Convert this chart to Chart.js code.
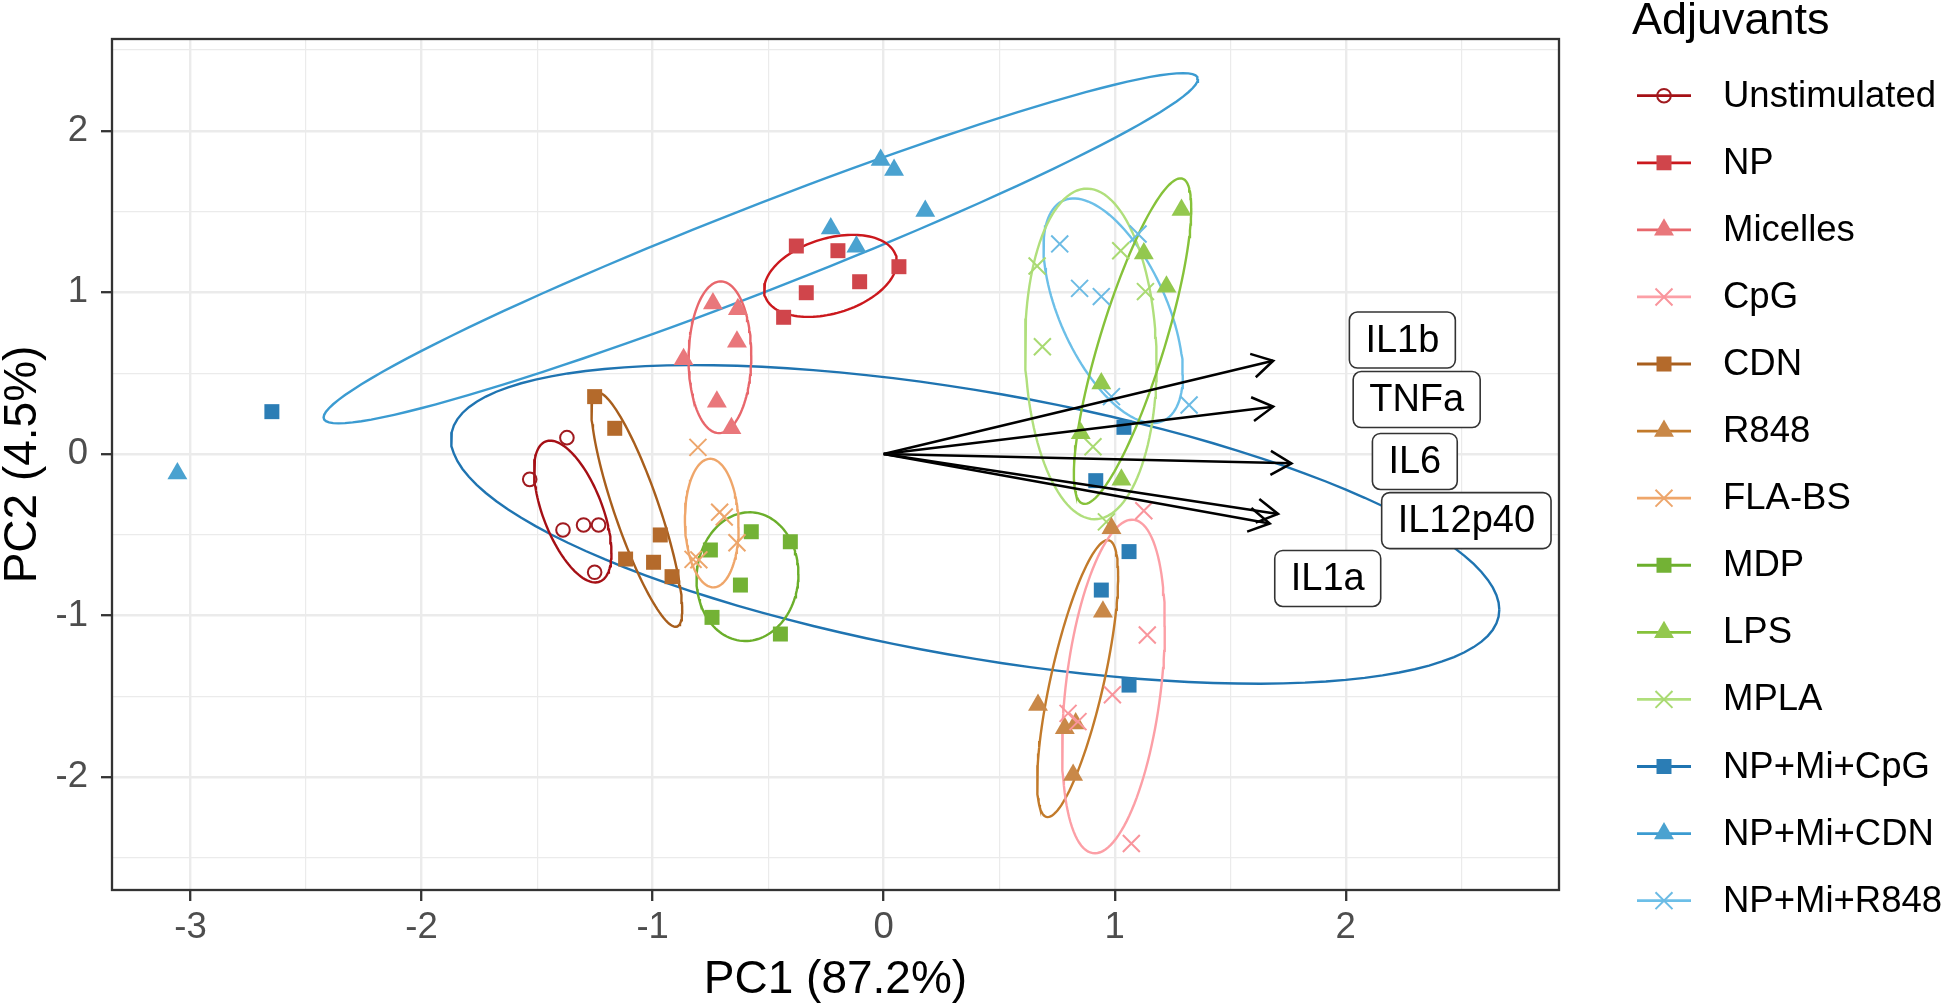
<!DOCTYPE html>
<html>
<head>
<meta charset="utf-8">
<script src="https://cdn.jsdelivr.net/npm/chart.js@4.4.1/dist/chart.umd.min.js"></script>
<style>
  html, body { margin: 0; padding: 0; background: #ffffff; }
  #wrap { width: 1944px; height: 1006px; }
</style>
</head>
<body>
<div id="wrap"><canvas id="myChart" width="1944" height="1006"></canvas></div>
<script>
// ---- data (PC1 / PC2 scores) ----
var groupNames = ['Unstimulated', 'NP', 'Micelles', 'CpG', 'CDN', 'R848', 'FLA-BS',
  'MDP', 'LPS', 'MPLA', 'NP+Mi+CpG', 'NP+Mi+CDN', 'NP+Mi+R848'];

var pc1Unstimulated = [-1.371, -1.532, -1.388, -1.299, -1.234, -1.251];
var pc2Unstimulated = [0.101, -0.157, -0.470, -0.439, -0.439, -0.732];
var pc1NP = [-0.378, -0.198, 0.066, -0.104, -0.335, -0.433];
var pc2NP = [1.287, 1.258, 1.159, 1.066, 0.998, 0.846];
var pc1Micelles = [-0.739, -0.631, -0.635, -0.866, -0.722, -0.659];
var pc2Micelles = [0.932, 0.895, 0.695, 0.586, 0.324, 0.159];
var pc1CpG = [1.126, 1.141, 0.990, 0.798, 0.841, 1.072];
var pc2CpG = [-0.351, -1.120, -1.490, -1.605, -1.656, -2.410];
var pc1CDN = [-1.251, -1.164, -0.967, -1.117, -0.996, -0.916];
var pc2CDN = [0.355, 0.159, -0.501, -0.650, -0.670, -0.759];
var pc1R848 = [0.986, 0.949, 0.668, 0.784, 0.831, 0.820];
var pc2R848 = [-0.460, -0.976, -1.553, -1.697, -1.667, -1.986];
var pc1FLABS = [-0.804, -0.710, -0.690, -0.635, -0.825, -0.800];
var pc2FLABS = [0.041, -0.360, -0.390, -0.549, -0.652, -0.655];
var pc1MDP = [-0.573, -0.404, -0.750, -0.620, -0.743, -0.447];
var pc2MDP = [-0.481, -0.543, -0.594, -0.811, -1.011, -1.114];
var pc1LPS = [1.289, 1.126, 1.224, 0.942, 0.853, 1.029];
var pc2LPS = [1.510, 1.240, 1.035, 0.437, 0.128, -0.160];
var pc1MPLA = [0.664, 1.026, 1.133, 0.687, 0.906, 0.964];
var pc2MPLA = [1.163, 1.258, 1.005, 0.664, 0.045, -0.420];
var pc1NpMiCpG = [-2.648, 1.040, 0.918, 1.062, 0.942, 1.062];
var pc2NpMiCpG = [0.262, 0.165, -0.165, -0.604, -0.842, -1.430];
var pc1NpMiCDN = [-3.057, -0.013, 0.045, 0.180, -0.229, -0.118];
var pc2NpMiCDN = [-0.120, 1.819, 1.757, 1.504, 1.396, 1.283];
var pc1NpMiR848 = [0.762, 1.101, 0.848, 0.942, 0.986, 1.322];
var pc2NpMiR848 = [1.300, 1.361, 1.025, 0.974, 0.355, 0.303];

// variable loadings (arrow tips) and where their labels sit
var loadingNames = ['IL1b', 'TNFa', 'IL6', 'IL12p40', 'IL1a'];
var loadingPC1 = [1.686, 1.686, 1.765, 1.707, 1.671];
var loadingPC2 = [0.577, 0.293, -0.058, -0.371, -0.430];
var labelPC1 = [2.245, 2.307, 2.299, 2.522, 1.922];
var labelPC2 = [0.705, 0.337, -0.046, -0.412, -0.770];

// axis ticks
var xMajorTicks = [-3, -2, -1, 0, 1, 2];
var xMinorTicks = [-2.5, -1.5, -0.5, 0.5, 1.5, 2.5];
var yMajorTicks = [-2, -1, 0, 1, 2];
var yMinorTicks = [-2.5, -1.5, -0.5, 0.5, 1.5, 2.5];

var groupPC1 = [pc1Unstimulated, pc1NP, pc1Micelles, pc1CpG, pc1CDN, pc1R848, pc1FLABS,
  pc1MDP, pc1LPS, pc1MPLA, pc1NpMiCpG, pc1NpMiCDN, pc1NpMiR848];
var groupPC2 = [pc2Unstimulated, pc2NP, pc2Micelles, pc2CpG, pc2CDN, pc2R848, pc2FLABS,
  pc2MDP, pc2LPS, pc2MPLA, pc2NpMiCpG, pc2NpMiCDN, pc2NpMiR848];

// ---- styles ----
var lineColors = ['#A50F15', '#CB181D', '#E8676C', '#FC9FA6', '#A85E1C', '#C27A2A', '#EFA66A',
  '#6BAF2B', '#86C23A', '#B0DF7C', '#1F74B1', '#3B9BD1', '#6CBFE8'];
var pointColors = ['#A01A1F', '#D0454B', '#E9777B', '#F9959C', '#B46A2B', '#C98848', '#EDA66C',
  '#73B235', '#93C84E', '#A9DA72', '#2B7DB5', '#4AA2D0', '#6CBBE4'];
var pointShapes = ['circle', 'rect', 'triangle', 'crossRot', 'rect', 'triangle', 'crossRot',
  'rect', 'triangle', 'crossRot', 'rect', 'triangle', 'crossRot'];
var FONT = "'Liberation Sans', Arial, sans-serif";
var ELLIPSE_SCALE = 1.52;

function shapeRadius(shape) {
  if (shape === 'rect') return 10.6;
  if (shape === 'triangle') return 11.5;
  if (shape === 'crossRot') return 12;
  return 6.8;
}

function mean(a) {
  var s = 0;
  for (var i = 0; i < a.length; i++) s += a[i];
  return s / a.length;
}

// normal-theory ellipse from each group's covariance
function ellipseFor(xs, ys) {
  var n = xs.length, mx = mean(xs), my = mean(ys);
  var sxx = 0, syy = 0, sxy = 0;
  for (var i = 0; i < n; i++) {
    var dx = xs[i] - mx, dy = ys[i] - my;
    sxx += dx * dx; syy += dy * dy; sxy += dx * dy;
  }
  sxx /= (n - 1); syy /= (n - 1); sxy /= (n - 1);
  var a = Math.sqrt(sxx), b = sxy / a, c = Math.sqrt(Math.max(syy - b * b, 0));
  var pts = [];
  for (var k = 0; k <= 120; k++) {
    var t = 2 * Math.PI * k / 120, u = Math.cos(t), v = Math.sin(t);
    pts.push({x: mx + ELLIPSE_SCALE * a * u, y: my + ELLIPSE_SCALE * (b * u + c * v)});
  }
  return pts;
}

var datasets = [];

// arrows (shafts) on top
loadingNames.forEach(function (name, i) {
  datasets.push({
    label: name,
    data: [{x: 0, y: 0}, {x: loadingPC1[i], y: loadingPC2[i]}],
    showLine: true,
    borderColor: '#000000',
    borderWidth: 2.5,
    pointRadius: 0,
    order: 0
  });
});

groupNames.forEach(function (name, g) {
  var pts = groupPC1[g].map(function (v, i) { return {x: v, y: groupPC2[g][i]}; });
  var shape = pointShapes[g];
  var open = shape === 'circle' || shape === 'crossRot';
  datasets.push({
    label: name,
    data: pts,
    pointStyle: shape,
    pointRadius: shapeRadius(shape),
    pointBackgroundColor: open ? 'rgba(0,0,0,0)' : pointColors[g],
    pointBorderColor: pointColors[g],
    pointBorderWidth: open ? 2 : 0,
    showLine: false,
    order: 1
  });
  datasets.push({
    label: name + ' ellipse',
    data: ellipseFor(groupPC1[g], groupPC2[g]),
    showLine: true,
    borderColor: lineColors[g],
    borderWidth: 2.4,
    pointRadius: 0,
    tension: 0,
    order: 2
  });
});

function drawMarker(ctx, g, cx, cy) {
  var shape = pointShapes[g];
  var open = shape === 'circle' || shape === 'crossRot';
  ctx.fillStyle = open ? 'rgba(0,0,0,0)' : pointColors[g];
  ctx.strokeStyle = pointColors[g];
  ctx.lineWidth = open ? 2 : 0;
  Chart.helpers.drawPoint(ctx, {
    pointStyle: shape, rotation: 0, radius: shapeRadius(shape), borderWidth: open ? 2 : 0
  }, cx, cy);
}

var biplotExtras = {
  id: 'biplotExtras',
  afterDatasetsDraw: function (chart) {
    var ctx = chart.ctx, xs = chart.scales.x, ys = chart.scales.y;
    var x0 = xs.getPixelForValue(0), y0 = ys.getPixelForValue(0);
    ctx.save();
    // open arrow heads
    ctx.strokeStyle = '#000000';
    ctx.lineWidth = 2.5;
    ctx.lineJoin = 'miter';
    loadingNames.forEach(function (name, i) {
      var x1 = xs.getPixelForValue(loadingPC1[i]), y1 = ys.getPixelForValue(loadingPC2[i]);
      var ang = Math.atan2(y1 - y0, x1 - x0), len = 24, spread = Math.PI / 6;
      ctx.beginPath();
      ctx.moveTo(x1 - len * Math.cos(ang - spread), y1 - len * Math.sin(ang - spread));
      ctx.lineTo(x1, y1);
      ctx.lineTo(x1 - len * Math.cos(ang + spread), y1 - len * Math.sin(ang + spread));
      ctx.stroke();
    });
    // labels in rounded boxes
    ctx.font = '38px ' + FONT;
    ctx.textAlign = 'center';
    ctx.textBaseline = 'middle';
    loadingNames.forEach(function (name, i) {
      var cx = xs.getPixelForValue(labelPC1[i]), cy = ys.getPixelForValue(labelPC2[i]);
      var w = ctx.measureText(name).width + 32, h = 56;
      ctx.beginPath();
      ctx.roundRect(cx - w / 2, cy - h / 2, w, h, 8);
      ctx.fillStyle = '#ffffff';
      ctx.fill();
      ctx.lineWidth = 1.6;
      ctx.strokeStyle = '#333333';
      ctx.stroke();
      ctx.fillStyle = '#000000';
      ctx.fillText(name, cx, cy + 1);
    });
    ctx.restore();
  },
  afterDraw: function (chart) {
    var ctx = chart.ctx, area = chart.chartArea;
    ctx.save();
    // panel border
    ctx.strokeStyle = '#333333';
    ctx.lineWidth = 2.3;
    ctx.strokeRect(area.left, area.top, area.right - area.left, area.bottom - area.top);
    // legend
    ctx.fillStyle = '#000000';
    ctx.textAlign = 'left';
    ctx.textBaseline = 'alphabetic';
    ctx.font = '45px ' + FONT;
    ctx.fillText('Adjuvants', 1632, 34);
    ctx.font = '36.5px ' + FONT;
    ctx.textBaseline = 'middle';
    groupNames.forEach(function (name, g) {
      var cy = 95.7 + g * 67.08;
      ctx.beginPath();
      ctx.strokeStyle = lineColors[g];
      ctx.lineWidth = 2.8;
      ctx.moveTo(1637, cy);
      ctx.lineTo(1691, cy);
      ctx.stroke();
      drawMarker(ctx, g, 1664, cy);
      ctx.fillStyle = '#000000';
      ctx.fillText(name, 1723, cy + 1);
    });
    ctx.restore();
  }
};

Chart.defaults.font.family = FONT;

function isMajor(list, v) {
  for (var i = 0; i < list.length; i++) if (Math.abs(list[i] - v) < 1e-9) return true;
  return false;
}

var myChartObject = document.getElementById('myChart');
var chart = new Chart(myChartObject, {
  type: 'scatter',
  data: { datasets: datasets },
  plugins: [biplotExtras],
  options: {
    responsive: false,
    animation: false,
    events: [],
    layout: { padding: { left: 0, top: 39, right: 385, bottom: 0 } },
    plugins: { legend: { display: false }, tooltip: { enabled: false } },
    scales: {
      x: {
        type: 'linear',
        min: -3.340,
        max: 2.923,
        afterBuildTicks: function (scale) {
          scale.ticks = xMajorTicks.concat(xMinorTicks).sort(function (a, b) { return a - b; })
            .map(function (v) { return {value: v}; });
        },
        afterFit: function (scale) { scale.height = 116; },
        ticks: {
          includeBounds: false,
          autoSkip: false,
          maxRotation: 0,
          padding: 5,
          color: '#4D4D4D',
          font: { size: 36.5 },
          callback: function (v) { return isMajor(xMajorTicks, v) ? String(v) : ''; }
        },
        grid: {
          color: '#EBEBEB',
          lineWidth: function (c) { return c.tick && isMajor(xMajorTicks, c.tick.value) ? 2.4 : 1.2; },
          tickColor: function (c) { return c.tick && isMajor(xMajorTicks, c.tick.value) ? '#333333' : 'rgba(0,0,0,0)'; },
          tickWidth: 2.3,
          tickLength: 11
        },
        border: { display: false },
        title: {
          display: true,
          text: 'PC1 (87.2%)',
          color: '#000000',
          font: { size: 46, lineHeight: 1 },
          padding: { top: 0, bottom: 3 }
        }
      },
      y: {
        type: 'linear',
        min: -2.698,
        max: 2.568,
        afterBuildTicks: function (scale) {
          scale.ticks = yMajorTicks.concat(yMinorTicks).sort(function (a, b) { return a - b; })
            .map(function (v) { return {value: v}; });
        },
        afterFit: function (scale) { scale.width = 112; },
        ticks: {
          includeBounds: false,
          autoSkip: false,
          padding: 13,
          color: '#4D4D4D',
          font: { size: 36.5 },
          callback: function (v) { return isMajor(yMajorTicks, v) ? String(v) : ''; }
        },
        grid: {
          color: '#EBEBEB',
          lineWidth: function (c) { return c.tick && isMajor(yMajorTicks, c.tick.value) ? 2.4 : 1.2; },
          tickColor: function (c) { return c.tick && isMajor(yMajorTicks, c.tick.value) ? '#333333' : 'rgba(0,0,0,0)'; },
          tickWidth: 2.3,
          tickLength: 11
        },
        border: { display: false },
        title: {
          display: true,
          text: 'PC2 (4.5%)',
          color: '#000000',
          font: { size: 46, lineHeight: 1 },
          padding: { top: 0, bottom: 0 }
        }
      }
    }
  }
});
</script>
</body>
</html>
